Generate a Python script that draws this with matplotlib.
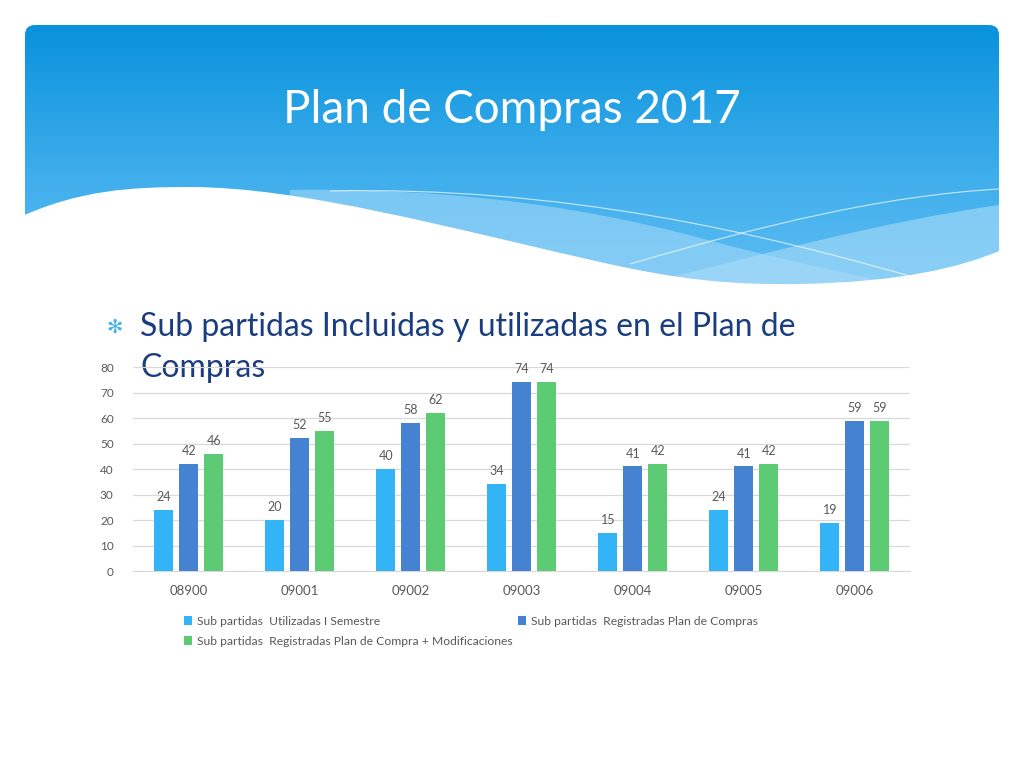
import numpy as np
import matplotlib
matplotlib.use("Agg")
import matplotlib.pyplot as plt
from matplotlib.path import Path
from matplotlib.patches import PathPatch, FancyBboxPatch

# --- data ---
categories = ["08900", "09001", "09002", "09003", "09004", "09005", "09006"]
utilizadas = [24, 20, 40, 34, 15, 24, 19]
registradas = [42, 52, 58, 74, 41, 41, 59]
modificaciones = [46, 55, 62, 74, 42, 42, 59]
series_names = [
    "Sub partidas  Utilizadas I Semestre",
    "Sub partidas  Registradas Plan de Compras",
    "Sub partidas  Registradas Plan de Compra + Modificaciones",
]
colors = ["#33b4f7", "#4682d2", "#5ccb73"]
yticks = [0, 10, 20, 30, 40, 50, 60, 70, 80]

plt.rcParams["font.family"] = ["Lato", "DejaVu Sans"]

fig = plt.figure(figsize=(10.24, 7.68), dpi=100)

# --- slide background (pixel coordinates) ---
bg = fig.add_axes([0, 0, 1, 1])
bg.set_xlim(0, 1024)
bg.set_ylim(768, 0)
bg.axis("off")

banner = FancyBboxPatch((25, 25), 974, 300, boxstyle="round,pad=0,rounding_size=10",
                        facecolor="none", edgecolor="none")
bg.add_patch(banner)
grad = np.linspace(0, 1, 256).reshape(-1, 1)
cmap = matplotlib.colors.LinearSegmentedColormap.from_list("b", ["#0892dc", "#3eaeec", "#6cc3f5"])
img = bg.imshow(grad, cmap=cmap, extent=[25, 999, 325, 25], aspect="auto", zorder=1)
img.set_clip_path(banner)

C4 = Path.CURVE4

# lighter translucent band from the crest
band1 = Path([(290, 190), (420, 188), (560, 200), (700, 238),
              (800, 265), (880, 280), (930, 290),
              (930, 300), (290, 300), (290, 190)],
             [Path.MOVETO, C4, C4, C4, C4, C4, C4,
              Path.LINETO, Path.LINETO, Path.CLOSEPOLY])
bg.add_patch(PathPatch(band1, facecolor="#a0d8f9", edgecolor="none", alpha=0.6, zorder=2))
# lighter band from the right edge
band2 = Path([(640, 285), (760, 255), (880, 222), (999, 205),
              (999, 300), (640, 300), (640, 285)],
             [Path.MOVETO, C4, C4, C4,
              Path.LINETO, Path.LINETO, Path.CLOSEPOLY])
bg.add_patch(PathPatch(band2, facecolor="#a9dcf9", edgecolor="none", alpha=0.6, zorder=2))

# white wave
wave = Path([(20, 217), (80, 190), (130, 187), (190, 187),
             (300, 187), (450, 228), (600, 262),
             (680, 280), (730, 285), (800, 284),
             (900, 282), (960, 268), (1004, 249),
             (1004, 330), (20, 330), (20, 217)],
            [Path.MOVETO, C4, C4, C4, C4, C4, C4, C4, C4, C4, C4, C4, C4,
             Path.LINETO, Path.LINETO, Path.CLOSEPOLY])
bg.add_patch(PathPatch(wave, facecolor="white", edgecolor="none", zorder=3))

# thin white lines
line1 = Path([(330, 191), (560, 186), (760, 232), (930, 282)],
             [Path.MOVETO, C4, C4, C4])
bg.add_patch(PathPatch(line1, facecolor="none", edgecolor="white", lw=0.8, alpha=0.7, zorder=2.5))
line2 = Path([(630, 264), (760, 226), (880, 196), (999, 189)],
             [Path.MOVETO, C4, C4, C4])
bg.add_patch(PathPatch(line2, facecolor="none", edgecolor="white", lw=0.8, alpha=0.7, zorder=2.5))

# titles
bg.text(512, 110, "Plan de Compras 2017", color="white", fontsize=33,
        ha="center", va="center", zorder=5)
bg.text(115, 327, "\u273b", color="#3fb3ea", fontsize=14, ha="center", va="center",
        family=["DejaVu Sans"], zorder=5)
bg.text(140, 327, "Sub partidas Incluidas y utilizadas en el Plan de", color="#1a3d80",
        fontsize=23, ha="left", va="center", zorder=5)
bg.text(140, 368, "Compras", color="#1a3d80", fontsize=23, ha="left", va="center", zorder=5)

# --- chart ---
ax = fig.add_axes([0.130, 0.2565, 0.759, 0.2656])
ax.patch.set_alpha(0)
x = np.arange(len(categories))
width = 0.17
offset = 0.225
bars = []
for i, (vals, c) in enumerate(zip([utilizadas, registradas, modificaciones], colors)):
    b = ax.bar(x + (i - 1) * offset, vals, width, color=c, label=series_names[i], zorder=3)
    bars.append(b)
    for xi, v in zip(x + (i - 1) * offset, vals):
        ax.annotate(str(v), (xi, v), xytext=(0, 5), textcoords="offset points",
                    ha="center", va="bottom", fontsize=9, color="#595959")

ax.set_xlim(-0.5, len(categories) - 0.5)
ax.set_ylim(0, 80)
ax.set_yticks(yticks)
ax.set_xticks(x)
ax.set_xticklabels(categories)
ax.grid(axis="y", color="#d9d9d9", lw=0.9, zorder=0)
for s in ["top", "right", "left"]:
    ax.spines[s].set_visible(False)
ax.spines["bottom"].set_color("#d9d9d9")
ax.tick_params(axis="both", length=0, labelsize=8.5, colors="#595959")
ax.tick_params(axis="x", pad=10, labelsize=9.5)
ax.tick_params(axis="y", pad=14)

handles = [bars[0], bars[2], bars[1]]
labels = [series_names[0], series_names[2], series_names[1]]
fig.legend(handles, labels, ncol=2, loc="upper left", bbox_to_anchor=(173 / 1024, 1 - 605 / 768),
           frameon=False, fontsize=8.7, handlelength=0.7, handleheight=0.7, handletextpad=0.4,
           columnspacing=0.4, labelspacing=0.75, labelcolor="#595959")

fig.savefig("out.png", dpi=100, facecolor="white")
